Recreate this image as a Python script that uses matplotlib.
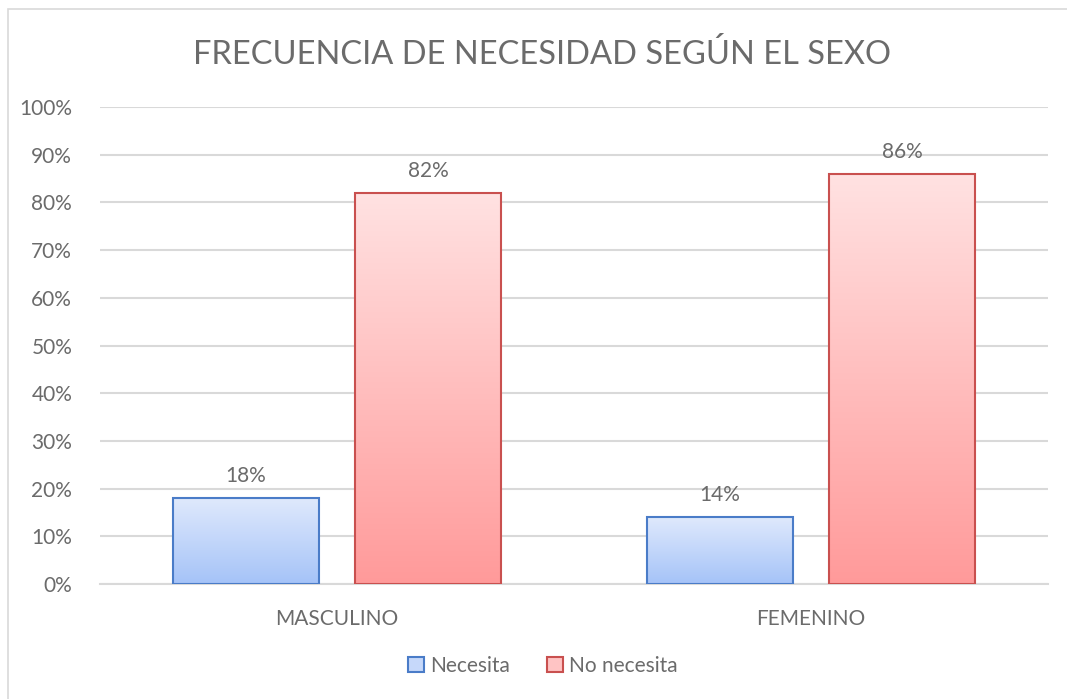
import numpy as np
import matplotlib.pyplot as plt
from matplotlib.patches import Patch, Rectangle
from matplotlib.colors import LinearSegmentedColormap

categories = ['MASCULINO', 'FEMENINO']
series_names = ['Necesita', 'No necesita']
necesita = [18, 14]
no_necesita = [82, 86]
yticks = [0, 10, 20, 30, 40, 50, 60, 70, 80, 90, 100]

plt.rcParams['font.family'] = ['Lato', 'DejaVu Sans']
text_col = '#6b6b6b'
grid_col = '#d9d9d9'

styles = {
    'Necesita': dict(edge='#4a7cc8', top='#dfe9fc', bottom='#a5c3f8', patch='#c6d8fa'),
    'No necesita': dict(edge='#c9504f', top='#ffe2e2', bottom='#ff9a9a', patch='#ffc4c4'),
}

W, H = 1067, 699
fig = plt.figure(figsize=(W / 100, H / 100), dpi=100)
# chart frame (only left and top edges are in view)
fig.patches.append(Rectangle((8 / W, -0.1), 1.2, (699 - 9) / H + 0.1,
                             transform=fig.transFigure, fill=False,
                             edgecolor='#d9d9d9', linewidth=1.2))

ax = fig.add_axes([100 / W, (H - 584) / H, 948 / W, 477 / H])
x = np.arange(len(categories))
width = 0.308
offset = 0.192

ax.set_xlim(-0.5, len(categories) - 0.5)
ax.set_ylim(0, 100)

for vals, name, sign in [(necesita, 'Necesita', -1), (no_necesita, 'No necesita', 1)]:
    st = styles[name]
    cmap = LinearSegmentedColormap.from_list(name, [st['bottom'], st['top']])
    bars = ax.bar(x + sign * offset, vals, width, facecolor='none',
                  edgecolor=st['edge'], linewidth=1.5, zorder=3)
    for b, v in zip(bars, vals):
        x0 = b.get_x()
        grad = np.linspace(0, 1, 256).reshape(-1, 1)
        im = ax.imshow(grad, cmap=cmap, origin='lower', aspect='auto',
                       extent=(x0, x0 + b.get_width(), 0, v), zorder=2)
        im.set_clip_path(b)
        ax.text(b.get_x() + b.get_width() / 2, v + 2.5, f'{v}%', ha='center',
                va='bottom', fontsize=15, color=text_col)

ax.set_xlim(-0.5, len(categories) - 0.5)
ax.set_ylim(0, 100)
ax.set_yticks(yticks)
ax.set_yticklabels([f'{t}%' for t in yticks])
ax.set_xticks(x)
ax.set_xticklabels(categories)
ax.tick_params(axis='both', length=0, labelsize=15, labelcolor=text_col)
ax.tick_params(axis='y', pad=20)
ax.tick_params(axis='x', pad=18)
ax.yaxis.grid(True, color=grid_col, linewidth=1.5, zorder=0)
ax.set_axisbelow(True)
for s in ['top', 'right', 'left']:
    ax.spines[s].set_visible(False)
ax.spines['bottom'].set_color(grid_col)
ax.spines['bottom'].set_linewidth(1.5)

fig.text(542 / W, 1 - 54 / H, 'FRECUENCIA DE NECESIDAD SEGÚN EL SEXO',
         ha='center', va='center', fontsize=23.5, color=text_col)

handles = [Patch(facecolor=styles[n]['patch'], edgecolor=styles[n]['edge'], linewidth=1.5)
           for n in series_names]
fig.legend(handles, series_names, loc='center', bbox_to_anchor=(543 / W, 1 - 666 / H),
           ncol=2, frameon=False, fontsize=15, labelcolor=text_col,
           handlelength=0.75, handleheight=0.75, handletextpad=0.3, columnspacing=1.8)

fig.savefig('out.png', dpi=100)
